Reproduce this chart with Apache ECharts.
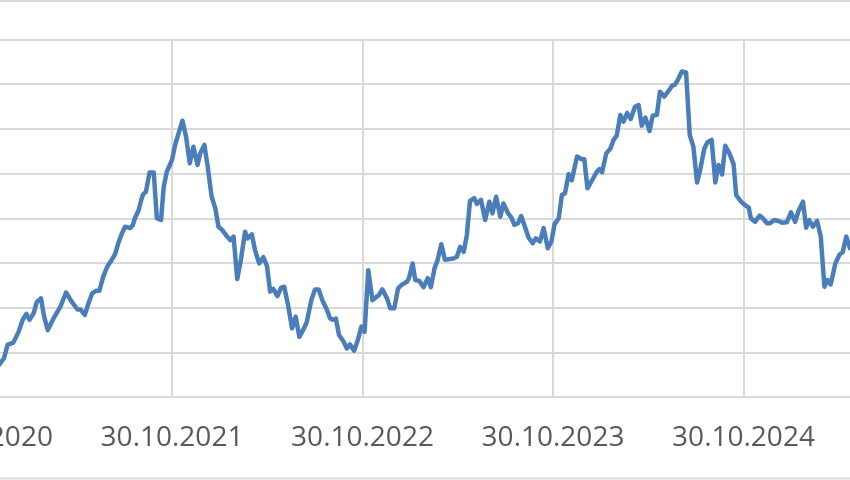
<!DOCTYPE html>
<html>
<head>
<meta charset="utf-8">
<script src="https://cdn.jsdelivr.net/npm/echarts@6/dist/echarts.min.js"></script>
<style>
html,body{margin:0;padding:0;background:#fff;overflow:hidden;width:850px;height:480px;position:relative;}
#chart{position:absolute;left:-209px;top:0;width:1334px;height:480px;}
</style>
</head>
<body>
<div id="chart"></div>
<script>
// x: days since 30.10.2020, y: value (gridline every 10)
var days = [28,36,43,50,61,71,79,86,92,100,106,114,120,127,138,151,162,173,184,190,198,205,212,220,226,233,241,250,256,262,269,275,285,290,294,301,307,310,315,322,330,336,344,349,355,365,371,385,392,399,406,414,419,427,433,441,448,454,461,470,477,483,490,497,505,510,518,524,532,540,547,553,559,567,574,580,588,595,602,609,617,623,632,639,646,653,662,668,673,679,685,694,700,706,714,721,728,734,741,749,761,768,777,783,791,798,805,815,819,826,831,839,847,855,861,868,874,881,888,904,911,917,924,930,936,944,949,957,965,973,979,986,994,1000,1009,1015,1021,1028,1034,1042,1048,1056,1062,1070,1077,1085,1092,1098,1106,1112,1118,1125,1131,1141,1150,1155,1161,1170,1179,1184,1189,1197,1205,1211,1217,1224,1230,1237,1244,1252,1259,1265,1272,1280,1286,1294,1300,1308,1318,1323,1329,1334,1342,1350,1357,1364,1371,1377,1385,1391,1399,1406,1412,1419,1425,1433,1441,1446,1454,1461,1470,1474,1482,1491,1497,1505,1511,1519,1527,1534,1543,1551,1559,1565,1574,1580,1586,1593,1601,1608,1615,1621,1627,1636,1644,1650,1657,1664,1680];
var values = [6.5,7.6,8.7,11.7,12.2,14.6,17.3,18.6,17.3,18.8,21.3,22.1,18.0,15.0,17.6,20.2,23.4,21.3,19.6,19.6,18.4,21.0,23.2,23.8,23.8,26.9,29.2,30.8,32.0,34.4,36.6,38.1,37.8,38.5,40.0,41.8,44.5,45.4,45.9,50.2,50.2,40.0,39.6,46.9,50.4,53.0,56.4,61.8,58.2,52.3,56.0,51.9,54.5,56.4,51.9,44.8,42.2,38.1,37.4,36.0,35.1,35.9,26.4,30.7,37.0,35.5,36.4,32.9,29.9,31.3,29.3,23.6,24.2,22.6,24.5,24.7,20.2,15.4,18.0,13.5,15.2,16.7,21.7,24.1,24.1,21.7,19.5,17.6,17.3,17.6,13.9,12.4,10.9,11.8,10.4,12.8,15.8,14.6,28.4,21.7,22.8,24.1,22.1,19.9,19.9,24.3,25.1,25.8,26.6,29.9,26.2,26.0,24.6,26.6,24.6,28.8,30.7,34.2,30.7,31.0,31.4,33.6,32.5,36.3,43.9,44.5,43.2,44.1,39.6,43.7,41.1,44.8,40.3,43.3,41.1,40.2,38.5,38.9,40.5,37.8,35.7,34.4,35.5,34.8,37.8,33.3,34.8,38.7,40.0,45.2,45.6,49.9,48.5,53.8,53.2,53.2,46.7,48.5,50.4,51.0,50.3,54.5,55.6,57.5,58.4,63.1,61.6,63.5,62.2,64.9,65.3,60.7,62.5,59.5,62.9,63.1,68.3,67.2,68.7,69.6,69.9,70.9,72.8,72.6,58.6,56.0,48.0,50.8,55.6,57.0,57.5,48.0,51.9,49.8,56.2,54.5,52.1,45.2,43.9,43.1,42.4,40.0,39.2,40.6,40.0,38.9,38.9,39.6,39.4,39.0,39.1,41.3,39.2,41.5,43.7,37.9,39.6,38.1,39.4,35.9,24.7,26.2,25.2,29.9,31.9,32.4,35.9,33.3,34.2];
var tickLabels = ['30.10.2019','30.10.2020','30.10.2021','30.10.2022','30.10.2023','30.10.2024','30.10.2025','30.10.2026'];
var xMin = -365, xMax = 2190, xStep = 365;

var chart = echarts.init(document.getElementById('chart'), null, {renderer:'canvas'});
chart.setOption({
  animation: false,
  backgroundColor: '#ffffff',
  graphic: [{
    type: 'rect',
    shape: {x: 199, y: 1, width: 870, height: 477.5},
    style: {fill: 'none', stroke: '#d9d9d9', lineWidth: 2},
    silent: true
  }],
  grid: {left: 0, right: 0.5, top: 39.3, bottom: 82.8, containLabel: false, outerBoundsMode: 'none'},
  xAxis: {
    type: 'value',
    min: xMin, max: xMax, interval: xStep,
    axisLine: {show: true, lineStyle: {color: '#d9d9d9', width: 2}},
    axisTick: {show: false},
    splitLine: {show: true, lineStyle: {color: '#d9d9d9', width: 2}},
    axisLabel: {
      show: true,
      margin: 27,
      color: '#595959',
      fontFamily: 'Open Sans',
      fontSize: 28,
      hideOverlap: false,
      formatter: function (v) { return tickLabels[Math.round((v - xMin) / xStep)] || ''; }
    }
  },
  yAxis: {
    type: 'value',
    min: 0, max: 80, interval: 10,
    axisLine: {show: false},
    axisTick: {show: false},
    axisLabel: {show: false},
    splitLine: {show: true, lineStyle: {color: '#d9d9d9', width: 2}}
  },
  series: [{
    type: 'line',
    data: days.map(function (d, i) { return [d, values[i]]; }),
    showSymbol: false,
    symbol: 'none',
    smooth: false,
    lineStyle: {color: '#4a7ebb', width: 4.5, join: 'round', cap: 'round'},
    clip: true
  }]
});
</script>
</body>
</html>
